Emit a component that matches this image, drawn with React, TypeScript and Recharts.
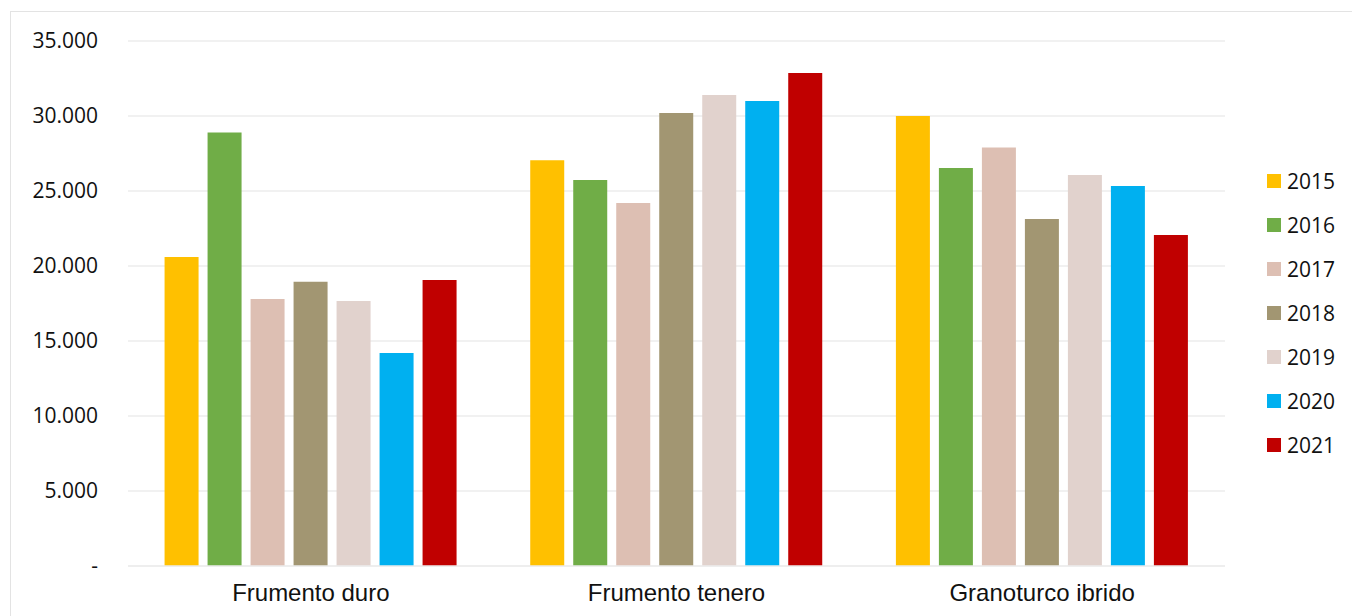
import React from "react";
import { BarChart, Bar, XAxis, YAxis, CartesianGrid } from "recharts";

const categories = ["Frumento duro", "Frumento tenero", "Granoturco ibrido"];
const years = ["2015", "2016", "2017", "2018", "2019", "2020", "2021"];
const colors = ["#FFC000", "#70AD47", "#DDBFB3", "#A29672", "#E1D2CD", "#00B0F0", "#C00000"];

const v2015 = [20600, 27050, 30000];
const v2016 = [28900, 25730, 26530];
const v2017 = [17800, 24200, 27900];
const v2018 = [18950, 30200, 23130];
const v2019 = [17670, 31400, 26070];
const v2020 = [14200, 31000, 25330];
const v2021 = [19070, 32870, 22070];

const yTicks = [0, 5000, 10000, 15000, 20000, 25000, 30000, 35000];

const series = [v2015, v2016, v2017, v2018, v2019, v2020, v2021];

const data = categories.map((name, i) => {
  const row: Record<string, string | number> = { name };
  years.forEach((y, j) => {
    row[y] = series[j][i];
  });
  return row;
});

const fmt = (v: number) => (v === 0 ? "-" : v.toLocaleString("de-DE"));

function LegendBox() {
  return (
    <div
      style={{
        position: "absolute",
        left: 1267,
        top: 159,
        fontFamily: "'Open Sans', sans-serif",
        fontSize: 21,
        color: "#111",
      }}
    >
      {years.map((y, i) => (
        <div key={y} style={{ display: "flex", alignItems: "center", height: 44 }}>
          <span style={{ width: 14, height: 14, background: colors[i], marginRight: 6, display: "inline-block" }} />
          <span>{y}</span>
        </div>
      ))}
    </div>
  );
}

export default function App() {
  return (
    <div style={{ position: "absolute", left: 0, top: 0, width: 1352, height: 616, overflow: "hidden", background: "#fff" }}>
      <div style={{ position: "absolute", left: 10, top: 11, width: 1400, height: 700, border: "1px solid #E3E3E3" }} />
      <BarChart
        width={1352}
        height={616}
        data={data}
        margin={{ top: 41, right: 127, bottom: 0, left: 0 }}
        barCategoryGap="10%"
        barGap={9}
      >
        <CartesianGrid horizontal vertical={false} stroke="#ECECEC" strokeWidth={1.5} />
        <XAxis
          dataKey="name"
          height={50}
          tickLine={false}
          axisLine={{ stroke: "#ECECEC", strokeWidth: 1.5 }}
          tickMargin={12}
          tick={{ fill: "#111", fontSize: 24, fontFamily: "'Liberation Sans', Arial, sans-serif" }}
        />
        <YAxis
          width={128}
          domain={[0, 35000]}
          ticks={yTicks}
          tickFormatter={fmt}
          tickLine={false}
          axisLine={false}
          tickMargin={24}
          tick={{ fill: "#111", fontSize: 21, fontFamily: "'Open Sans', sans-serif" }}
        />
        {years.map((y, i) => (
          <Bar key={y} dataKey={y} fill={colors[i]} isAnimationActive={false} />
        ))}
      </BarChart>
      <LegendBox />
    </div>
  );
}
